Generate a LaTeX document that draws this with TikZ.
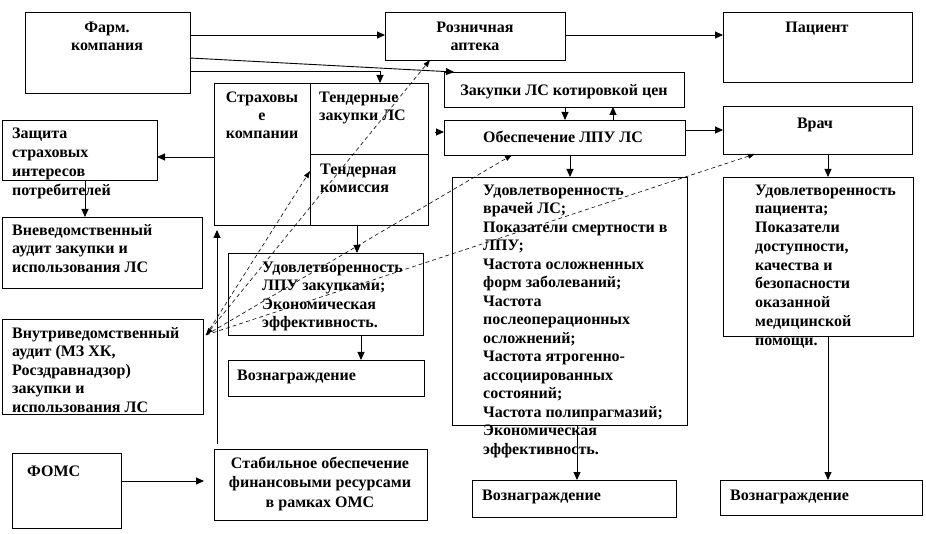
\documentclass[tikz,border=0pt]{standalone}
\usepackage{fontspec}
\setmainfont{Liberation Serif}
\usetikzlibrary{arrows.meta,calc}
\newcommand{\myst}{\rule{0pt}{12pt}}
\begin{document}
\begin{tikzpicture}[x=1pt,y=-1pt,
 box/.style={draw, line width=0.9pt, inner sep=0pt, outer sep=0pt, anchor=north west},
 txt/.style={inner sep=0pt, font=\bfseries\fontsize{16}{18.5}\selectfont},
 lt/.style={txt, anchor=north west, align=left},
 ct/.style={txt, anchor=north, align=center},
 arr/.style={line width=0.9pt, -{Triangle[length=8pt,width=7pt]}},
 dsh/.style={line width=0.6pt, dash pattern=on 4pt off 3pt, -{Triangle[length=7pt,width=5pt]}},
]
\fill[white] (0,0) rectangle (926,534);
\useasboundingbox (0,0) rectangle (926,534);

% boxes
\node[box, minimum width=165pt, minimum height=81pt] (farm) at (25,12) {};
\node[box, minimum width=180pt, minimum height=48pt] (apt) at (385,12) {};
\node[box, minimum width=189pt, minimum height=70pt] (patient) at (723,12) {};
\node[box, minimum width=240pt, minimum height=35pt] (zak) at (444,72) {};
\node[box, minimum width=241pt, minimum height=35pt] (obesp) at (444,120) {};
\node[box, minimum width=189pt, minimum height=48pt] (vrach) at (723,106) {};
\node[box, minimum width=214pt, minimum height=142pt] (strah) at (214,83) {};
\node[box, minimum width=155pt, minimum height=60pt] (zashch) at (2,120) {};
\node[box, minimum width=200pt, minimum height=71pt] (vneved) at (2,217) {};
\node[box, minimum width=201pt, minimum height=95pt] (vnutr) at (2,319) {};
\node[box, minimum width=195pt, minimum height=82pt] (udlpu) at (228,253) {};
\node[box, minimum width=196pt, minimum height=36pt] (voz1) at (228,360) {};
\node[box, minimum width=109pt, minimum height=75pt] (foms) at (12,453) {};
\node[box, minimum width=213pt, minimum height=71pt] (stab) at (214,449) {};
\node[box, minimum width=235pt, minimum height=248pt] (bigbox) at (452,177) {};
\node[box, minimum width=204pt, minimum height=37pt] (voz2) at (472,480) {};
\node[box, minimum width=190pt, minimum height=159pt] (rightbox) at (723,177) {};
\node[box, minimum width=202pt, minimum height=35pt] (voz3) at (720,480) {};

% dividers of the insurance box
\draw[line width=0.9pt] (strah.north -| 310,0) -- (strah.south -| 310,0);
\draw[line width=0.9pt] (310,154) -- (strah.east |- 0,154);

% texts
\node[ct] (tfarm) at (107,20) {\myst Фарм.\\компания};
\node[ct] (tapt) at (475,20) {\myst Розничная\\аптека};
\node[ct] (tpatient) at (817,20) {\myst Пациент};
\node[ct] (tzak) at (564,83) {\myst Закупки ЛС котировкой цен};
\node[ct] (tobesp) at (563,130) {\myst Обеспечение ЛПУ ЛС};
\node[ct] (tvrach) at (815,116) {\myst Врач};
\node[ct, font=\bfseries\fontsize{16}{18}\selectfont] (tstrah) at (262,90) {\myst Страховы\\е\\компании};
\node[lt] (ttz) at (319,90) {\myst Тендерные\\закупки ЛС};
\node[lt] (ttk) at (320,162) {\myst Тендерная\\комиссия};
\node[lt, font=\bfseries\fontsize{16}{19}\selectfont] (tzashch) at (12,126) {\myst Защита\\страховых\\интересов\\потребителей};
\node[lt] (tvneved) at (12,223) {\myst Вневедомственный\\аудит закупки и\\использования ЛС};
\node[lt] (tvnutr) at (12,326) {\myst Внутриведомственный\\аудит (МЗ ХК,\\Росздравнадзор)\\закупки и\\использования ЛС};
\node[lt] (tudlpu) at (262,260) {\myst Удовлетворенность\\ЛПУ закупками;\\Экономическая\\эффективность.};
\node[lt] (tvoz1) at (237,368) {\myst Вознаграждение};
\node[lt] (tfoms) at (27,464) {\myst ФОМС};
\node[ct, font=\bfseries\fontsize{16}{19.5}\selectfont] (tstab) at (320,456) {\myst Стабильное обеспечение\\финансовыми ресурсами\\в рамках ОМС};
\node[lt] (tbig) at (483,183) {\myst Удовлетворенность\\врачей ЛС;\\Показатели смертности в\\ЛПУ;\\Частота осложненных\\форм заболеваний;\\Частота\\послеоперационных\\осложнений;\\Частота ятрогенно-\\ассоциированных\\состояний;\\Частота полипрагмазий;\\Экономическая\\эффективность.};
\node[lt] (tvoz2) at (482,488) {\myst Вознаграждение};
\node[lt, font=\bfseries\fontsize{16}{18.75}\selectfont] (tright) at (755,183) {\myst Удовлетворенность\\пациента;\\Показатели\\доступности,\\качества и\\безопасности\\оказанной\\медицинской\\помощи.};
\node[lt] (tvoz3) at (730,488) {\myst Вознаграждение};

% solid arrows
\draw[arr] (farm.east |- 0,35) -- (apt.west |- 0,35);
\draw[arr] (farm.east |- 0,58) -- ($(zak.north west)+(10,0)$);
\draw[arr] (farm.east |- 0,71) -| (strah.north -| 380,0);
\draw[arr] (apt.east |- 0,35) -- (patient.west |- 0,35);
\draw[arr] (zak.south -| 565,0) -- (obesp.north -| 565,0);
\draw[arr] (obesp.north -| 613,0) -- (zak.south -| 613,0);
\coordinate (s1) at (435,132);
\draw[arr] (s1) -- (obesp.west |- s1);
\draw[arr] (obesp.east |- 0,130) -- (vrach.west |- 0,130);
\draw[arr] (obesp.south -| 570,0) -- (bigbox.north -| 570,0);
\draw[arr] (vrach.south -| 828,0) -- (rightbox.north -| 828,0);
\draw[arr] (strah.west |- 0,157) -- (zashch.east |- 0,157);
\draw[arr] (zashch.south -| 85,0) -- (vneved.north -| 85,0);
\draw[arr] (strah.south -| 357,0) -- (udlpu.north -| 357,0);
\draw[arr] (udlpu.south -| 361,0) -- (voz1.north -| 361,0);
\draw[arr] (bigbox.south -| 577,0) -- (voz2.north -| 577,0);
\draw[arr] (rightbox.south -| 828,0) -- (voz3.north -| 828,0);
\coordinate (f1) at (204,481);
\draw[arr] (foms.east |- f1) -- (f1);
\coordinate (v0) at (217,444);
\coordinate (v1) at (217,230);
\draw[arr] (v0) -- (v1);

% dashed arrows
\coordinate (P) at (206,335);
\coordinate (tk) at (310,171);
\draw[dsh, {Triangle[length=7pt,width=5pt]}-{Triangle[length=7pt,width=5pt]}] (P) -- (apt.south -| 430,0);
\draw[dsh] (P) -- (tk);
\draw[dsh] (P) -- (obesp.south -| 512,0);
\draw[dsh] (P) -- (vrach.south -| 755,0);
\end{tikzpicture}
\end{document}
